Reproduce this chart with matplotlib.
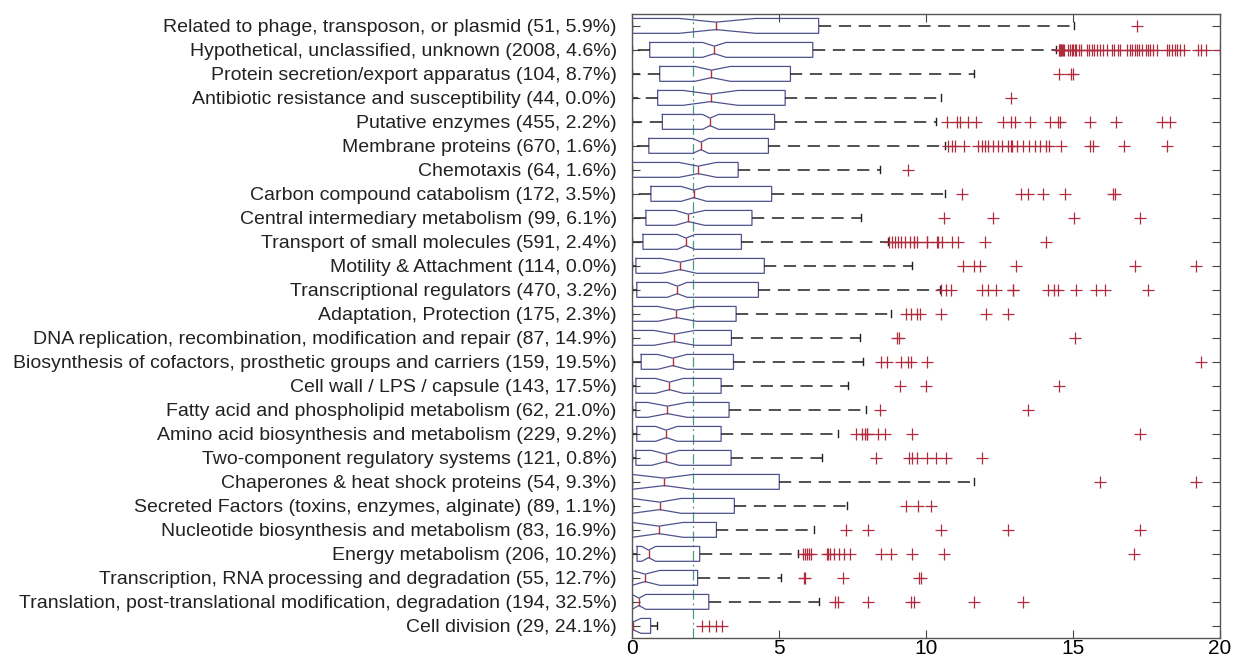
import matplotlib
matplotlib.use("Agg")
import matplotlib.pyplot as plt

plt.rcParams['font.family'] = ['Liberation Sans', 'DejaVu Sans']

categories = [
    "Related to phage, transposon, or plasmid (51, 5.9%)",
    "Hypothetical, unclassified, unknown (2008, 4.6%)",
    "Protein secretion/export apparatus (104, 8.7%)",
    "Antibiotic resistance and susceptibility (44, 0.0%)",
    "Putative enzymes (455, 2.2%)",
    "Membrane proteins (670, 1.6%)",
    "Chemotaxis (64, 1.6%)",
    "Carbon compound catabolism (172, 3.5%)",
    "Central intermediary metabolism (99, 6.1%)",
    "Transport of small molecules (591, 2.4%)",
    "Motility & Attachment (114, 0.0%)",
    "Transcriptional regulators (470, 3.2%)",
    "Adaptation, Protection (175, 2.3%)",
    "DNA replication, recombination, modification and repair (87, 14.9%)",
    "Biosynthesis of cofactors, prosthetic groups and carriers (159, 19.5%)",
    "Cell wall / LPS / capsule (143, 17.5%)",
    "Fatty acid and phospholipid metabolism (62, 21.0%)",
    "Amino acid biosynthesis and metabolism (229, 9.2%)",
    "Two-component regulatory systems (121, 0.8%)",
    "Chaperones & heat shock proteins (54, 9.3%)",
    "Secreted Factors (toxins, enzymes, alginate) (89, 1.1%)",
    "Nucleotide biosynthesis and metabolism (83, 16.9%)",
    "Energy metabolism (206, 10.2%)",
    "Transcription, RNA processing and degradation (55, 12.7%)",
    "Translation, post-translational modification, degradation (194, 32.5%)",
    "Cell division (29, 24.1%)",
]

whislo = [0.0] * 26
q1 = [0.0, 0.6, 0.94, 0.87, 1.03, 0.57, 0.0, 0.64, 0.47, 0.37, 0.13, 0.16, 0.0,
      0.0, 0.31, 0.13, 0.13, 0.16, 0.13, 0.0, 0.0, 0.0, 0.17, 0.0, 0.0, 0.0]
med = [2.85, 2.8, 2.7, 2.67, 2.65, 2.34, 2.25, 2.1, 1.91, 1.83, 1.64, 1.54, 1.51,
       1.44, 1.38, 1.27, 1.2, 1.16, 1.14, 1.1, 0.94, 0.91, 0.56, 0.44, 0.23, 0.02]
q3 = [6.35, 6.15, 5.39, 5.21, 4.85, 4.64, 3.61, 4.75, 4.08, 3.72, 4.5, 4.3, 3.54,
      3.38, 3.45, 3.03, 3.3, 3.03, 3.37, 5.01, 3.48, 2.87, 2.3, 2.23, 2.61, 0.63]
cilo = [1.6, 2.4, 2.14, 1.74, 2.4, 2.07, 1.6, 1.67, 1.47, 1.54, 1.0, 1.2, 0.87,
        0.74, 0.87, 0.8, 0.53, 0.8, 0.67, 0.0, 0.0, 0.0, 0.33, 0.0, 0.0, 0.0]
cihi = [4.2, 3.2, 3.34, 3.6, 2.94, 2.6, 2.87, 2.54, 2.47, 2.14, 2.2, 1.87, 2.2,
        2.14, 1.87, 1.74, 1.87, 1.54, 1.6, 2.07, 1.67, 1.74, 0.8, 0.94, 0.47, 0.3]
whishi = [15.04, 14.42, 11.63, 10.5, 10.33, 10.65, 8.45, 10.65, 7.79, 8.7, 9.52, 10.47, 8.8,
          7.75, 7.86, 7.35, 7.95, 7.02, 6.48, 11.63, 7.33, 6.18, 5.66, 5.08, 6.35, 0.84]

fliers = [
    [17.2],
    [14.52, 14.55, 14.58, 14.6, 14.63, 14.66, 14.7, 14.84, 14.9, 14.96, 15.01, 15.07,
     15.12, 15.21, 15.29, 15.47, 15.55, 15.64, 15.71, 15.81, 15.92, 16.03, 16.15, 16.32,
     16.39, 16.54, 16.6, 16.85, 16.94, 17.03, 17.11, 17.17, 17.26, 17.34, 17.48, 17.56,
     17.64, 17.73, 17.85, 18.19, 18.28, 18.36, 18.47, 18.55, 18.64, 18.79, 19.26, 19.38,
     19.55, 20.0],
    [14.53, 14.93, 15.0],
    [12.9],
    [10.73, 11.06, 11.16, 11.43, 11.72, 12.63, 12.9, 13.03, 13.54, 14.24, 14.5, 14.57,
     15.6, 16.48, 18.05, 18.3],
    [10.76, 10.9, 11.0, 11.3, 11.76, 11.9, 12.0, 12.1, 12.3, 12.45, 12.6, 12.8, 12.9,
     12.92, 13.1, 13.3, 13.5, 13.7, 13.9, 14.1, 14.2, 14.6, 15.57, 15.7, 16.75, 18.22],
    [9.38],
    [11.23, 13.24, 13.46, 13.97, 14.75, 16.38, 16.44],
    [10.63, 12.3, 15.04, 17.3],
    [8.76, 8.85, 8.95, 9.05, 9.15, 9.3, 9.45, 9.59, 9.6, 9.7, 10.03, 10.04, 10.39, 10.4,
     10.55, 10.9, 11.1, 12.0, 14.08],
    [11.27, 11.63, 11.83, 13.06, 17.11, 19.21],
    [10.52, 10.7, 10.87, 11.9, 12.1, 12.37, 12.97, 12.98, 14.17, 14.37, 14.5, 15.1,
     15.78, 16.11, 17.55],
    [9.33, 9.49, 9.69, 9.8, 10.52, 12.03, 12.79],
    [9.02, 9.08, 15.07],
    [8.46, 8.69, 9.16, 9.4, 9.49, 10.05, 19.35],
    [9.13, 9.99, 14.53],
    [8.45, 13.48],
    [7.62, 7.82, 7.93, 7.98, 8.0, 8.36, 8.62, 9.53, 17.3],
    [8.29, 9.43, 9.53, 9.69, 10.03, 10.36, 10.67, 11.9],
    [15.92, 19.21],
    [9.32, 9.72, 10.19],
    [7.29, 8.03, 10.53, 12.79, 17.3],
    [5.82, 5.88, 5.95, 6.02, 6.08, 6.62, 6.68, 6.75, 6.86, 7.05, 7.22, 7.42, 8.46, 8.82,
     9.53, 10.63, 17.09],
    [5.84, 5.9, 7.18, 9.76, 9.85],
    [6.91, 7.02, 8.02, 9.49, 9.59, 11.64, 13.3],
    [2.37, 2.61, 2.85, 3.07],
]

overall_median = 2.07
xticks = [0, 5, 10, 15, 20]

stats = []
for i in range(len(categories)):
    stats.append(dict(whislo=whislo[i], q1=q1[i], med=med[i], q3=q3[i],
                      whishi=whishi[i], cilo=cilo[i], cihi=cihi[i],
                      fliers=fliers[i], label=categories[i]))

fig = plt.figure(figsize=(12.37, 6.61), dpi=100)
ax = fig.add_axes([0.511, 0.035, 0.475, 0.944])

box_color = '#50528f'
positions = list(range(1, len(categories) + 1))
ax.bxp(stats, positions=positions, vert=False, widths=0.62, capwidths=0.3,
       shownotches=True, showfliers=True,
       boxprops=dict(color=box_color, linewidth=0.9),
       medianprops=dict(color='#b03040', linewidth=1.0),
       whiskerprops=dict(color='#222222', linewidth=1.1, linestyle=(0, (8, 5))),
       capprops=dict(color='#222222', linewidth=1.0),
       flierprops=dict(marker='+', markeredgecolor='#b02c3c', markersize=9,
                       markeredgewidth=0.9, linestyle='none'))

ax.axvline(overall_median, color='#4d9a80', linewidth=0.9, linestyle=(0, (8, 3, 1.5, 3)),
           zorder=0.5)

ax.set_xlim(0, 20)
ax.set_ylim(len(categories) + 0.5, 0.5)
ax.set_xticks(xticks)
ax.set_xticklabels([str(t) for t in xticks], fontsize=15)
ax.set_yticks(positions)
ax.set_yticklabels(categories, fontsize=14, color='#222222')
ax.tick_params(axis='both', direction='in', top=True, right=True, length=6,
               color='#444444')
ax.tick_params(axis='y', pad=11)
ax.tick_params(axis='x', pad=1)
for s in ax.spines.values():
    s.set_color('#555555')
    s.set_linewidth(1.0)

fig.savefig('out.png', dpi=100)
